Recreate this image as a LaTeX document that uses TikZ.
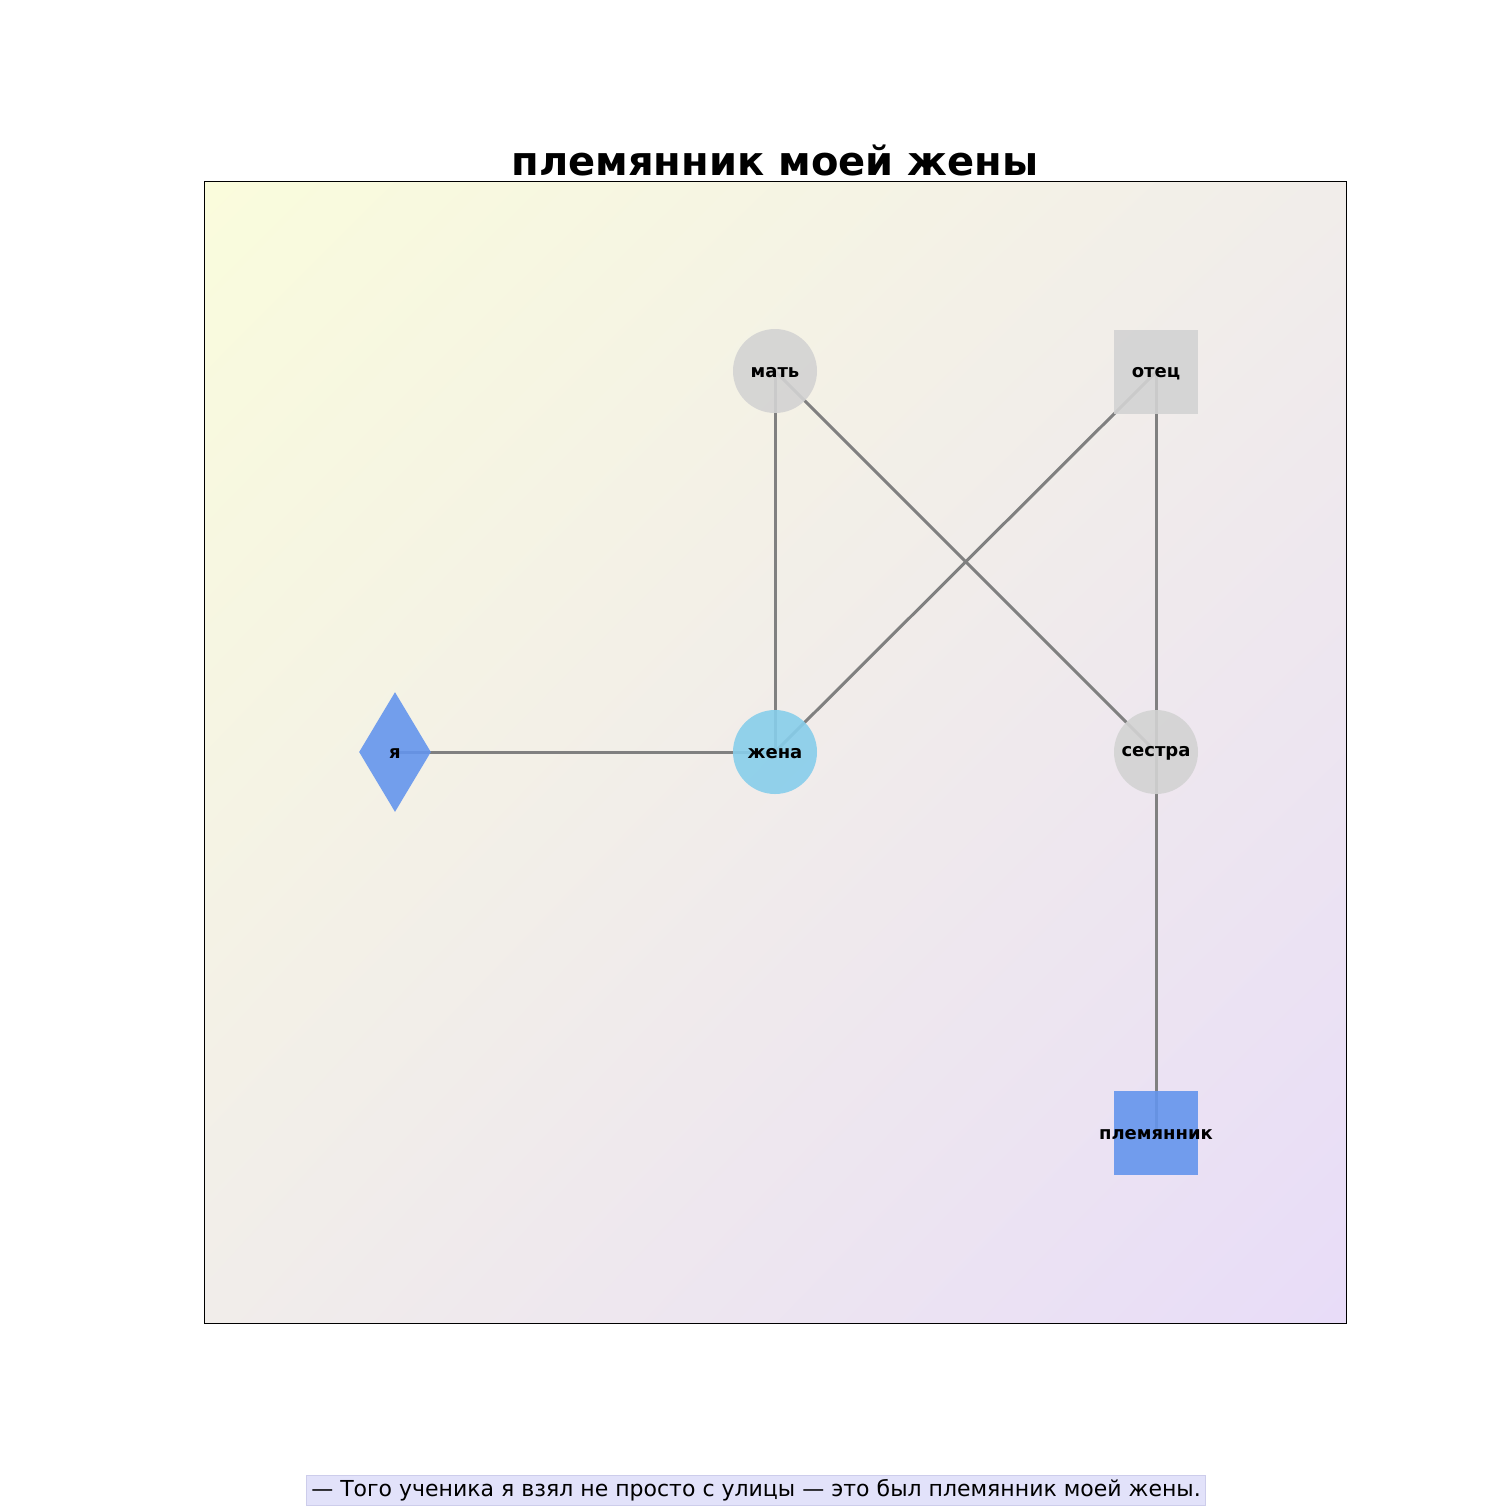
\documentclass[tikz,border=0pt]{standalone}
\usepackage{fontspec}
\setmainfont{DejaVu Sans}
\usetikzlibrary{shapes.geometric,shadings}
\definecolor{edgegray}{HTML}{808080}
\definecolor{nodegray}{HTML}{D3D3D3}
\definecolor{skyb}{HTML}{87CEEB}
\definecolor{cornb}{HTML}{6495ED}
\definecolor{bgul}{RGB}{250,252,220}
\definecolor{bglr}{RGB}{232,220,248}
\definecolor{bgmid}{RGB}{241,237,234}
\definecolor{capfill}{RGB}{226,226,250}
\definecolor{capedge}{RGB}{205,205,235}
\begin{document}
\begin{tikzpicture}[x=0.5pt,y=-0.5pt,
  edge/.style={draw=edgegray,line width=1.5pt},
  circnode/.style={circle,inner sep=0pt,minimum size=42pt,fill opacity=0.9,text opacity=1},
  sqnode/.style={rectangle,inner sep=0pt,minimum size=42pt,fill opacity=0.9,text opacity=1},
  dianode/.style={diamond,inner sep=0pt,minimum width=36pt,minimum height=60pt,fill opacity=0.9},
  lbl/.style={font=\fontsize{9}{11}\selectfont\bfseries,text opacity=1,fill opacity=1,yshift=-0.6pt}
]
\useasboundingbox (0,0) rectangle (1512,1512);
\fill[white] (0,0) rectangle (1512,1512);
\shade[upper left=bgul,lower right=bglr,upper right=bgmid,lower left=bgmid] (204,181) rectangle (1346,1323);
\draw[black,line width=0.5pt] (204,181) rectangle (1346,1323);

\node[font=\fontsize{20}{24}\selectfont\bfseries,anchor=base] (title) at (775,175) {племянник моей жены};

\coordinate (pm) at (775,371);
\coordinate (po) at (1156,372);
\coordinate (py) at (395,752);
\coordinate (pz) at (775,752);
\coordinate (ps) at (1156,752);
\coordinate (pp) at (1156,1133);

\draw[edge] (pm) -- (pz);
\draw[edge] (pm) -- (ps);
\draw[edge] (po) -- (pz);
\draw[edge] (po) -- (ps);
\draw[edge] (py) -- (pz);
\draw[edge] (ps) -- (pp);

\node[circnode,fill=nodegray] (mat) at (pm) {};
\node[lbl] at (mat.center) {мать};
\node[sqnode,fill=nodegray] (otec) at (po) {};
\node[lbl] at (otec.center) {отец};
\node[dianode,fill=cornb] (ya) at (py) {};
\node[lbl] at (ya.center) {я};
\node[circnode,fill=skyb] (zhena) at (pz) {};
\node[lbl] at (zhena.center) {жена};
\node[circnode,fill=nodegray] (sestra) at (ps) {};
\node[lbl] at (sestra.center) {сестра};
\node[sqnode,fill=cornb] (plem) at (pp) {};
\node[lbl] at (plem.center) {племянник};

\node[font=\fontsize{11}{13}\selectfont,fill=capfill,draw=capedge,line width=0.4pt,inner xsep=2.5pt,minimum height=15pt,inner ysep=0pt] (cap) at (756,1490) {— Того ученика я взял не просто с улицы — это был племянник моей жены.};
\end{tikzpicture}
\end{document}
